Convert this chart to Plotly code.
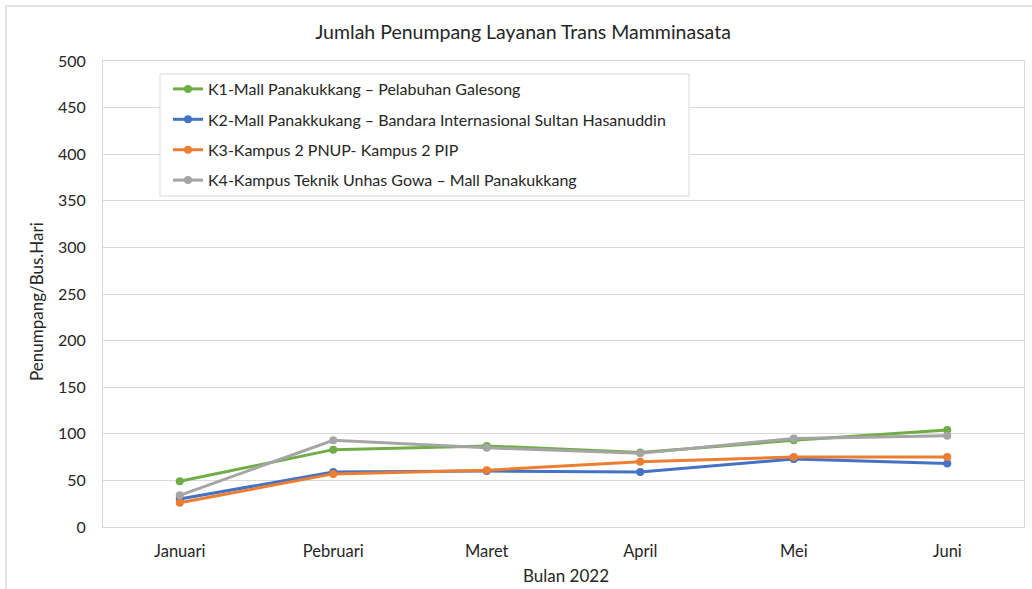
import plotly.graph_objects as go

months = ["Januari", "Pebruari", "Maret", "April", "Mei", "Juni"]
k1 = [49, 83, 87, 80, 93, 104]
k2 = [30, 59, 60, 59, 73, 68]
k3 = [26, 57, 61, 70, 75, 75]
k4 = [34, 93, 85, 79, 95, 98]
names = [
    "K1-Mall Panakukkang \u2013 Pelabuhan Galesong",
    "K2-Mall Panakkukang \u2013 Bandara Internasional Sultan Hasanuddin",
    "K3-Kampus 2 PNUP- Kampus 2 PIP",
    "K4-Kampus Teknik Unhas Gowa \u2013 Mall Panakukkang",
]
colors = ["#70AD47", "#4472C4", "#ED7D31", "#A5A5A5"]
yticks = [0, 50, 100, 150, 200, 250, 300, 350, 400, 450, 500]

FONT = "Lato, 'Open Sans', sans-serif"
TXT = "#262626"
fig = go.Figure()
for i, (vals, nm, c) in enumerate(zip([k1, k2, k3, k4], names, colors)):
    fig.add_trace(go.Scatter(
        x=months, y=vals, name=nm, mode="lines+markers",
        line=dict(color=c, width=3), marker=dict(color=c, size=8),
        legendgroup=f"g{i}",
    ))

W, H = 1032, 589
L, R, T, B = 103, 8, 61, 62
pw, ph = W - L - R, H - T - B

def px(x):
    return (x - L) / pw

def py(y):
    return (H - B - y) / ph

fig.update_layout(
    width=W, height=H,
    margin=dict(l=L, r=R, t=T, b=B, autoexpand=False),
    paper_bgcolor="white", plot_bgcolor="white",
    font=dict(family=FONT, size=16, color=TXT),
    title=dict(text="Jumlah Penumpang Layanan Trans Mamminasata",
               x=523 / W, xanchor="center", y=1 - 32 / H, yanchor="middle",
               font=dict(size=19.5, color=TXT)),
    legend=dict(x=px(168), y=py(72), xanchor="left", yanchor="top",
                borderwidth=0, bgcolor="rgba(0,0,0,0)",
                font=dict(size=16, color=TXT), tracegroupgap=6.6,
                itemwidth=30),
    xaxis=dict(showgrid=False, showline=True, linecolor="#D9D9D9", mirror=True,
               range=[-0.5, 5.5], ticks="", ticklabelstandoff=9, automargin=False,
               tickfont=dict(size=16.5, color=TXT)),
    yaxis=dict(range=[0, 500], tickvals=yticks, showgrid=True, gridcolor="#D9D9D9",
               showline=True, linecolor="#D9D9D9", mirror=True, zeroline=False,
               ticks="", ticklabelstandoff=13, automargin=False,
               tickfont=dict(size=16, color=TXT)),
    showlegend=True,
)

# legend box (white, light border)
fig.add_shape(type="rect", xref="paper", yref="paper", layer="above",
              x0=px(160), x1=px(689), y0=py(196), y1=py(74),
              fillcolor="white", line=dict(color="#D9D9D9", width=1))

fig.add_annotation(text="Bulan 2022", xref="paper", yref="paper",
                   x=px(566), y=py(575), xanchor="center", yanchor="middle",
                   showarrow=False, font=dict(size=17, color=TXT))
fig.add_annotation(text="Penumpang/Bus.Hari", xref="paper", yref="paper",
                   x=px(36), y=py(302), xanchor="center", yanchor="middle",
                   textangle=-90, showarrow=False, font=dict(size=17, color=TXT))

# outer chart-area border (left and top edges)
fig.add_shape(type="line", xref="paper", yref="paper",
              x0=px(6), x1=px(6), y0=py(589), y1=py(6),
              line=dict(color="#D9D9D9", width=1.5))
fig.add_shape(type="line", xref="paper", yref="paper",
              x0=px(6), x1=px(W), y0=py(6), y1=py(6),
              line=dict(color="#D9D9D9", width=1.5))

fig.write_html("out.html", config={"displayModeBar": False},
               post_script="document.body.style.margin='0';")
